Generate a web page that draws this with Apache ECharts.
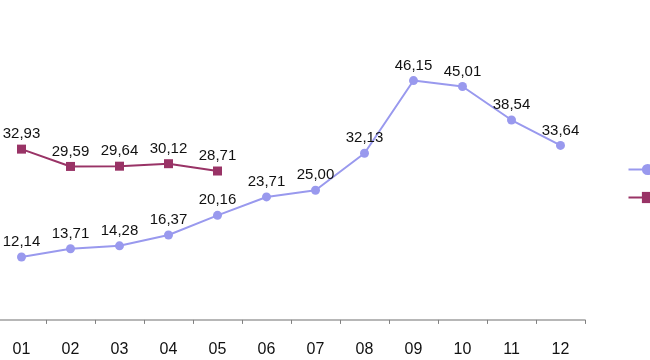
<!DOCTYPE html>
<html>
<head>
<meta charset="utf-8">
<script src="https://cdn.jsdelivr.net/npm/echarts@6/dist/echarts.min.js"></script>
<style>html,body{margin:0;padding:0;background:#fff;overflow:hidden}#c{position:absolute;left:-3.5px;top:0;width:653.5px;height:360px}</style>
</head>
<body>
<div id="c"></div>
<script>
var categories = ['01','02','03','04','05','06','07','08','09','10','11','12'];
var seriesNames = ['2013','2014'];
var valuesA = [12.14,13.71,14.28,16.37,20.16,23.71,25.00,32.13,46.15,45.01,38.54,33.64];
var valuesB = [32.93,29.59,29.64,30.12,28.71];

var fmt = function(p){ return p.value.toFixed(2).replace('.', ','); };
var chart = echarts.init(document.getElementById('c'));
chart.setOption({
  animation: false,
  backgroundColor: '#fff',
  grid: { left: 0, right: 66, top: 58, bottom: 37.5, containLabel: false },
  legend: {
    orient: 'vertical', left: 625.5, top: 158, itemWidth: 38, itemHeight: 14, itemGap: 15,
    textStyle: { fontFamily: 'Liberation Sans', fontSize: 13, color: '#000' },
    data: seriesNames
  },
  xAxis: {
    type: 'category', data: categories, boundaryGap: true,
    axisLine: { lineStyle: { color: '#a0a0a0', width: 1.5 } },
    axisTick: { show: true, length: 4, inside: false, lineStyle: { color: '#808080' } },
    axisLabel: { fontFamily: 'Liberation Sans', fontSize: 16, color: '#111', margin: 19 }
  },
  yAxis: { type: 'value', min: -0.5, max: 50.5, show: false, splitLine: { show: false } },
  series: [
    { name: seriesNames[0], type: 'line', data: valuesA, color: '#9999ee',
      symbol: 'circle', symbolSize: 9, lineStyle: { width: 2, color: '#9999ee' },
      itemStyle: { color: '#9999ee' },
      label: { show: true, position: 'top', distance: 3, formatter: fmt,
        fontFamily: 'Liberation Sans', fontSize: 15, color: '#111' } },
    { name: seriesNames[1], type: 'line', data: valuesB, color: '#993366',
      symbol: 'rect', symbolSize: 9, lineStyle: { width: 2, color: '#993366' },
      itemStyle: { color: '#993366' },
      label: { show: true, position: 'top', distance: 3, formatter: fmt,
        fontFamily: 'Liberation Sans', fontSize: 15, color: '#111' } }
  ]
});
</script>
</body>
</html>
